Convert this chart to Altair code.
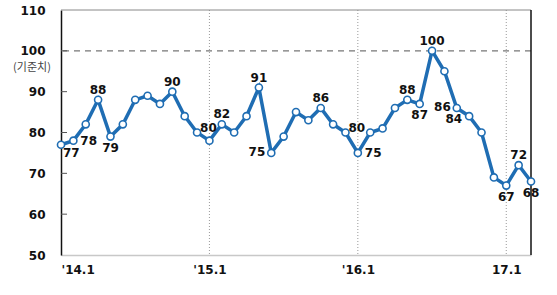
import altair as alt
import pandas as pd

months = [
    "14.1", "14.2", "14.3", "14.4", "14.5", "14.6", "14.7", "14.8", "14.9", "14.10", "14.11", "14.12",
    "15.1", "15.2", "15.3", "15.4", "15.5", "15.6", "15.7", "15.8", "15.9", "15.10", "15.11", "15.12",
    "16.1", "16.2", "16.3", "16.4", "16.5", "16.6", "16.7", "16.8", "16.9", "16.10", "16.11", "16.12",
    "17.1", "17.2", "17.3",
]
values = [
    77, 78, 82, 88, 79, 82, 88, 89, 87, 90, 84, 80,
    78, 82, 80, 84, 91, 75, 79, 85, 83, 86, 82, 80,
    75, 80, 81, 86, 88, 87, 100, 95, 86, 84, 80, 69,
    67, 72, 68,
]
# label placement for annotated points ("" = no label)
placement = [
    "br", "r", "", "a", "b", "", "", "", "", "a", "", "ar",
    "", "a", "", "", "a", "l", "", "", "", "a", "", "ar",
    "r", "", "", "", "a", "b", "a", "", "l", "bl", "", "",
    "b", "a", "b",
]
x_tick_pos = [0, 12, 24, 36]
x_tick_labels = ["'14.1", "'15.1", "'16.1", "17.1"]
y_ticks = [50, 60, 70, 80, 90, 100, 110]
ref_value = 100
ref_label = "(기준치)"

df = pd.DataFrame({"i": list(range(len(months))), "month": months,
                   "v": values, "pos": placement})

BLUE = "#1f6db3"
FONT = "DejaVu Sans"

label_expr = " : ".join(
    f"datum.value == {p} ? \"{l}\"" for p, l in zip(x_tick_pos, x_tick_labels)
) + " : ''"

xs = alt.Scale(domain=[0, len(months) - 1], nice=False, zero=False)
ys = alt.Scale(domain=[50, 110], nice=False, zero=False)

X = alt.X("i:Q", scale=xs, axis=alt.Axis(
    values=x_tick_pos, labelExpr=label_expr, title=None, grid=False,
    ticks=False, domainColor="#c8c8c8", domainWidth=1.5,
    labelFont=FONT, labelFontWeight="bold", labelFontSize=12,
    labelColor="#111", labelPadding=9))
Y = alt.Y("v:Q", scale=ys, axis=alt.Axis(
    values=y_ticks, title=None, grid=False, ticks=False,
    domainColor="#111", domainWidth=1.5,
    labelFont=FONT, labelFontWeight="bold", labelFontSize=12,
    labelColor="#111", labelPadding=16))

base = alt.Chart(df)

# vertical dotted gridlines
vgrid = alt.Chart(pd.DataFrame({"i": x_tick_pos[1:]})).mark_rule(
    color="#999", strokeDash=[1, 2], strokeWidth=1
).encode(x=alt.X("i:Q", scale=xs))

# top and right border
top = alt.Chart(pd.DataFrame({"v": [110]})).mark_rule(color="#888", strokeWidth=1).encode(
    y=alt.Y("v:Q", scale=ys))
right = alt.Chart(pd.DataFrame({"i": [len(months) - 1]})).mark_rule(color="#111", strokeWidth=1.5).encode(
    x=alt.X("i:Q", scale=xs))

# inward y ticks
yt = alt.Chart(pd.DataFrame({"v": y_ticks[1:-1]})).mark_rule(color="#555", strokeWidth=1).encode(
    y=alt.Y("v:Q", scale=ys), x=alt.value(0), x2=alt.value(6))

ref = alt.Chart(pd.DataFrame({"v": [ref_value]})).mark_rule(
    color="#777", strokeDash=[6, 5], strokeWidth=1.2).encode(y=alt.Y("v:Q", scale=ys))
ref_text = alt.Chart(pd.DataFrame({"v": [ref_value], "t": [ref_label]})).mark_text(
    font="Noto Sans CJK KR", fontSize=11, color="#444", align="center", baseline="top", dy=11
).encode(y=alt.Y("v:Q", scale=ys), x=alt.value(-29), text="t:N")

line = base.mark_line(color=BLUE, strokeWidth=3.5).encode(x=X, y=Y)
pts = base.mark_point(shape="circle", filled=True, fill="white", stroke=BLUE,
                      strokeWidth=1.6, size=50, opacity=1).encode(x=X, y=Y)

offsets = {
    "a": dict(align="center", dx=0, dy=-10),
    "b": dict(align="center", dx=0, dy=11),
    "l": dict(align="right", dx=-6, dy=-1),
    "r": dict(align="left", dx=7, dy=0),
    "br": dict(align="left", dx=2, dy=8),
    "ar": dict(align="left", dx=3, dy=-5),
    "bl": dict(align="right", dx=-7, dy=3),
}
texts = []
for k, o in offsets.items():
    texts.append(base.transform_filter(alt.datum.pos == k).mark_text(
        font=FONT, fontWeight="bold", fontSize=12, color="#111",
        baseline="middle", **o
    ).encode(x=alt.X("i:Q", scale=xs), y=alt.Y("v:Q", scale=ys), text="v:Q"))

chart = alt.layer(vgrid, ref, top, right, yt, line, pts, *texts, ref_text).properties(
    width=470, height=245,
    autosize=alt.AutoSizeParams(type="none"),
    padding={"left": 61, "top": 10, "right": 26, "bottom": 40},
    background="white",
).configure_view(stroke=None)

chart.save("out.html", embed_options={"renderer": "svg", "actions": False})
